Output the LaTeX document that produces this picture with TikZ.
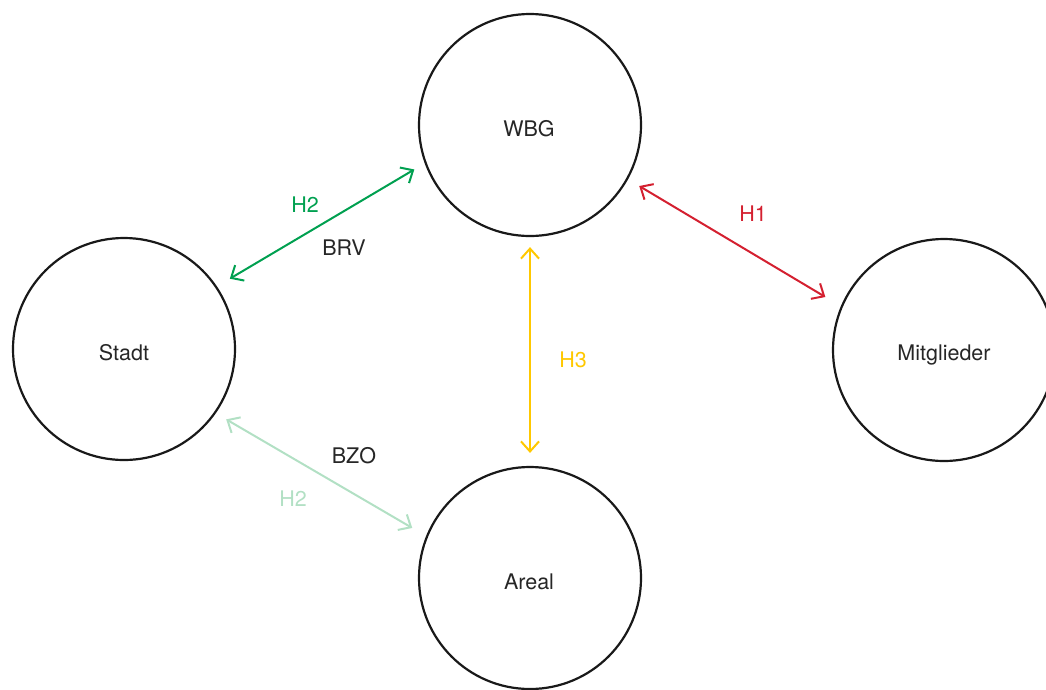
\documentclass[tikz,border=0pt]{standalone}
\usepackage{fontspec}
\setmainfont{TeX Gyre Heros}
\usetikzlibrary{arrows.meta}

\definecolor{hgreen}{RGB}{0,160,80}
\definecolor{hpale}{RGB}{178,224,196}
\definecolor{hred}{RGB}{212,32,48}
\definecolor{hyellow}{RGB}{255,200,0}

\tikzset{
  party/.style={circle, draw=black!90, line width=2.2pt, minimum size=222pt, inner sep=0pt},
  rel/.style={line width=2pt, {Straight Barb[length=10pt,width=18pt]}-{Straight Barb[length=10pt,width=18pt]}},
  lbl/.style={anchor=base, inner sep=0pt, font=\fontsize{21.5}{25}\selectfont}
}

\begin{document}
\begin{tikzpicture}[x=1pt,y=-1pt]
    \path[use as bounding box] (0,0) rectangle (1046,689);
    % Parties.
    \node[party] (wbg) at (530,125) {};
    \node[party] (stadt) at (124,349) {};
    \node[party] (mitglieder) at (944,350) {};
    \node[party] (areal) at (530,578) {};
    \node[lbl, black!85] (wbgtext) at (529,136) {WBG};
    \node[lbl, black!85] (stadttext) at (124,360) {Stadt};
    \node[lbl, black!85] (mitgliedertext) at (944,360) {Mitglieder};
    \node[lbl, black!85] (arealtext) at (529,589) {Areal};
    % Relations.
    \draw[rel, hgreen, shorten <=15pt, shorten >=12pt] (stadt.34) -- (wbg.200);
    \draw[rel, hred, shorten <=13pt, shorten >=18pt] (wbg.331) -- (mitglieder.157);
    \draw[rel, hyellow, shorten <=10pt, shorten >=13pt] (wbg.south) -- (areal.north);
    \draw[rel, hpale, shorten <=12pt, shorten >=16pt] (stadt.325) -- (areal.158);
    % Labels.
    \node[lbl, hgreen] (h2top) at (305,212) {H2};
    \node[lbl, black!85] (brv) at (344,255) {BRV};
    \node[lbl, hred] (h1) at (753,221) {H1};
    \node[lbl, hyellow] (h3) at (573,367) {H3};
    \node[lbl, black!85] (bzo) at (354,463) {BZO};
    \node[lbl, hpale] (h2bottom) at (293,506) {H2};
  \end{tikzpicture}
\end{document}
